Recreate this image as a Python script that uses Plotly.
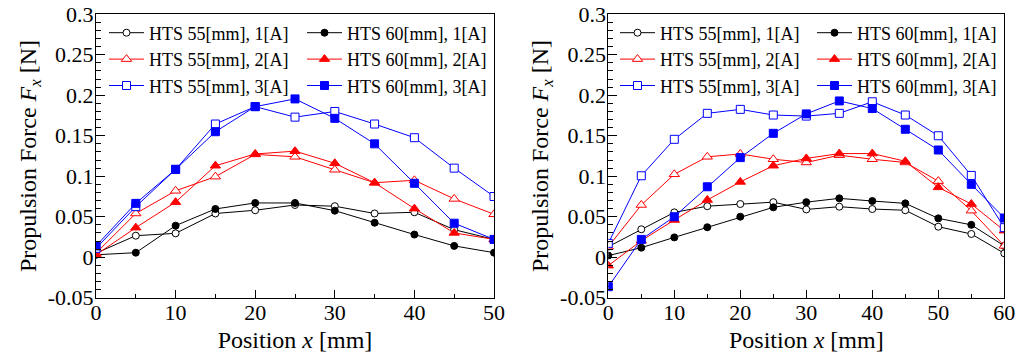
import plotly.graph_objects as go

# ---------------- data ----------------
x_left = [0, 5, 10, 15, 20, 25, 30, 35, 40, 45, 50]
L_55_1 = [0.005, 0.0266, 0.0295, 0.054, 0.058, 0.0645, 0.063, 0.054, 0.0555, 0.034, 0.022]
L_60_1 = [0.003, 0.0056, 0.039, 0.0596, 0.067, 0.067, 0.0575, 0.0426, 0.028, 0.014, 0.0056]
L_55_2 = [0.005, 0.054, 0.082, 0.0995, 0.127, 0.124, 0.108, 0.092, 0.095, 0.072, 0.053]
L_60_2 = [0.003, 0.0365, 0.068, 0.113, 0.1275, 0.131, 0.116, 0.092, 0.060, 0.030, 0.022]
L_55_3 = [0.011, 0.0625, 0.1085, 0.1645, 0.186, 0.173, 0.180, 0.1645, 0.1476, 0.110, 0.075]
L_60_3 = [0.014, 0.0665, 0.1085, 0.155, 0.186, 0.1955, 0.1715, 0.140, 0.0913, 0.042, 0.022]

x_right = [0, 5, 10, 15, 20, 25, 30, 35, 40, 45, 50, 55, 60]
R_55_1 = [0.013, 0.0345, 0.0554, 0.063, 0.0657, 0.068, 0.059, 0.0624, 0.0595, 0.058, 0.0377, 0.0287, 0.0048]
R_60_1 = [0.002, 0.0118, 0.0245, 0.037, 0.050, 0.0616, 0.068, 0.0727, 0.0694, 0.0665, 0.048, 0.040, 0.014]
R_55_2 = [0.013, 0.0645, 0.1024, 0.124, 0.1275, 0.121, 0.117, 0.126, 0.121, 0.117, 0.094, 0.0575, 0.014]
R_60_2 = [-0.0104, 0.0204, 0.046, 0.0707, 0.093, 0.113, 0.122, 0.128, 0.128, 0.1185, 0.0863, 0.0657, 0.0328]
R_55_3 = [0.0171, 0.1006, 0.1456, 0.1777, 0.1826, 0.1756, 0.1743, 0.1777, 0.192, 0.1756, 0.150, 0.101, 0.0365]
R_60_3 = [-0.0364, 0.022, 0.050, 0.087, 0.123, 0.153, 0.177, 0.193, 0.1836, 0.158, 0.1324, 0.090, 0.0484]

names = ["HTS 55[mm], 1[A]", "HTS 60[mm], 1[A]",
         "HTS 55[mm], 2[A]", "HTS 60[mm], 2[A]",
         "HTS 55[mm], 3[A]", "HTS 60[mm], 3[A]"]

x_ticks_left = [0, 10, 20, 30, 40, 50]
x_ticks_right = [0, 10, 20, 30, 40, 50, 60]
y_ticks = [-0.05, 0, 0.05, 0.1, 0.15, 0.2, 0.25, 0.3]
y_ticklabels = ["-0.05", "0", "0.05", "0.1", "0.15", "0.2", "0.25", "0.3"]

# ---------------- styles ----------------
FONT = "Times New Roman"
colors = ["#000000", "#000000", "#ff0000", "#ff0000", "#0000ff", "#0000ff"]
symbols = ["circle", "circle", "triangle-up", "triangle-up", "square", "square"]
filled = [False, True, False, True, False, True]
sizes = [7, 7, 9, 9, 8, 8]

fig = go.Figure()

def add_set(xv, series, xa, ya, legends, tag):
    # series order: 55-1, 60-1, 55-2, 60-2, 55-3, 60-3 ; one legend per column
    for i, y in enumerate(series):
        c = colors[i]
        fig.add_trace(go.Scatter(
            x=xv, y=y, mode="lines+markers", name=names[i],
            uid=f"{tag}{i}", legendgroup=f"{tag}{i}",
            xaxis=xa, yaxis=ya, legend=legends[i % 2],
            line=dict(color=c, width=1),
            marker=dict(symbol=symbols[i], size=sizes[i],
                        color=c if filled[i] else "#ffffff",
                        line=dict(color=c, width=1)),
        ))

# right chart traces first, then left chart
add_set(x_right, [R_55_1, R_60_1, R_55_2, R_60_2, R_55_3, R_60_3], "x2", "y2",
        ["legend", "legend2"], "R")
add_set(x_left, [L_55_1, L_60_1, L_55_2, L_60_2, L_55_3, L_60_3], "x", "y",
        ["legend3", "legend4"], "L")

W, H = 1022, 353
def px(v):
    return v / W
def py(v):
    return 1 - v / H

xaxis_common = dict(
    showline=True, linecolor="black", linewidth=1, mirror=True,
    ticks="inside", ticklen=8, tickcolor="black", tickwidth=1,
    showgrid=False, zeroline=False, tickfont=dict(size=22),
    ticklabelstandoff=-5,
    minor=dict(dtick=5, ticks="inside", ticklen=4, tickcolor="black"),
)
yaxis_common = dict(
    showline=True, linecolor="black", linewidth=1, mirror=True,
    ticks="inside", ticklen=9, tickcolor="black", tickwidth=1,
    showgrid=False, zeroline=False, tickfont=dict(size=22),
    ticklabelstandoff=-3,
    range=[-0.05, 0.3], tickvals=y_ticks, ticktext=y_ticklabels,
    minor=dict(dtick=0.01, ticks="inside", ticklen=5, tickcolor="black"),
)

ytitle = dict(text="Propulsion Force <i>F<sub>x</sub></i> [N]", font=dict(size=24), standoff=4)
xtitle = dict(text="Position <i>x</i> [mm]", font=dict(size=24), standoff=8)

def leg(xpix):
    return dict(orientation="v", x=px(xpix), y=py(14.5), xanchor="left", yanchor="top",
                bgcolor="rgba(0,0,0,0)", font=dict(size=18), itemwidth=35,
                traceorder="normal", tracegroupgap=0, borderwidth=0)

fig.update_layout(
    width=W, height=H,
    font=dict(family=FONT, size=22, color="black"),
    margin=dict(l=0, r=0, t=0, b=0, autoexpand=False),
    paper_bgcolor="white", plot_bgcolor="white",
    xaxis=dict(domain=[px(96), px(494)], range=[0, 50], tickvals=x_ticks_left,
               anchor="y", title=xtitle, **xaxis_common),
    yaxis=dict(domain=[py(297.7), py(14.3)], anchor="x", title=ytitle, **yaxis_common),
    xaxis2=dict(domain=[px(608.3), px(1004.3)], range=[0, 60], tickvals=x_ticks_right,
                anchor="y2", title=xtitle, **xaxis_common),
    yaxis2=dict(domain=[py(297.7), py(14.3)], anchor="x2", title=ytitle, **yaxis_common),
    legend=leg(615),
    legend2=leg(812),
    legend3=leg(104),
    legend4=leg(302),
    showlegend=True,
)

fig.write_html("out.html")
